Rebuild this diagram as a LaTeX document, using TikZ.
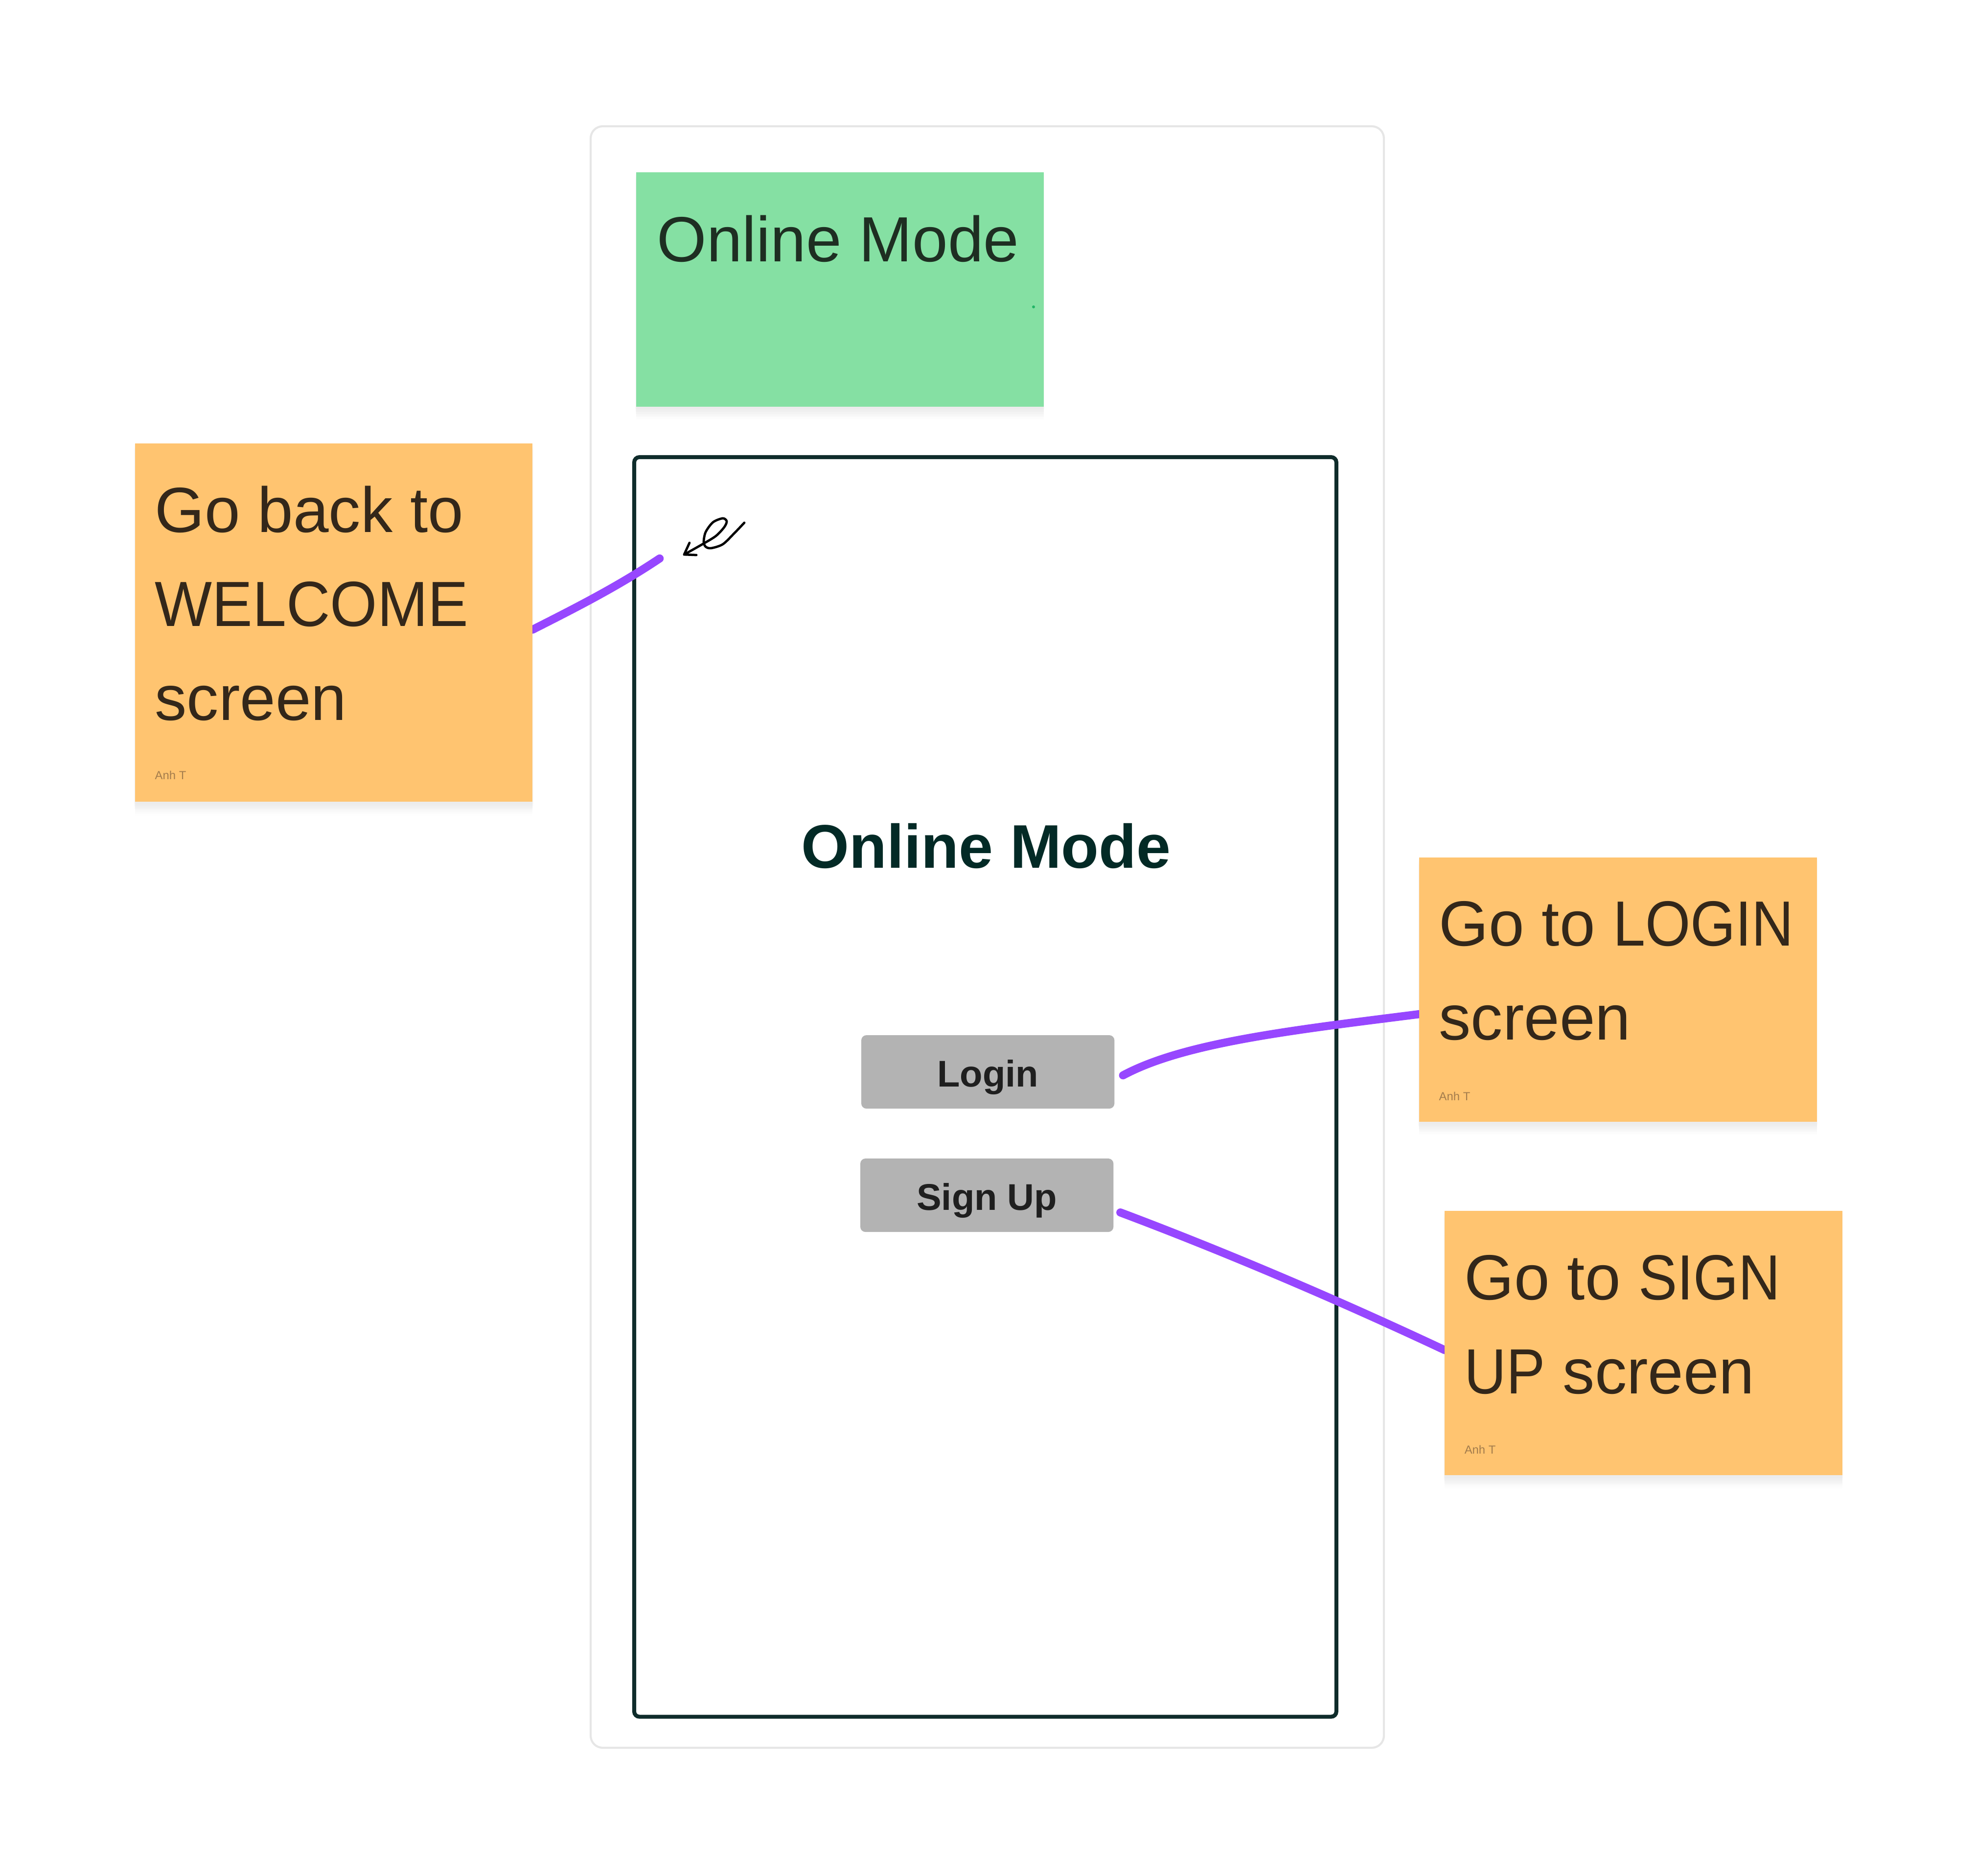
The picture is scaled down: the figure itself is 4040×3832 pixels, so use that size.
\documentclass[tikz,border=0pt]{standalone}
\usepackage{fontspec}
\setmainfont{Liberation Sans}
\newfontfamily\capsfont[FakeStretch=0.91]{Liberation Sans}
\newfontfamily\widecapsfont[FakeStretch=0.95]{Liberation Sans}
\usetikzlibrary{backgrounds}
\usetikzlibrary{shadows}
\definecolor{stickyorange}{HTML}{FFC470}
\definecolor{stickygreen}{HTML}{85E0A3}
\definecolor{linkpurple}{HTML}{9747FF}
\definecolor{framedark}{HTML}{0F2C2B}
\definecolor{titleink}{HTML}{032A26}
\definecolor{framelight}{HTML}{E6E6E6}
\definecolor{buttongray}{HTML}{B3B3B3}
\definecolor{orangeink}{HTML}{33271A}
\definecolor{greenink}{HTML}{1E2E22}
\definecolor{authorink}{HTML}{A37C4C}
\definecolor{dotgreen}{HTML}{21B566}
\tikzset{
  softshadow/.style={
    general shadow={fill=black,opacity=.008,shadow yshift=-1pt,shadow scale=1.006},
    general shadow={fill=black,opacity=.008,shadow yshift=-2pt,shadow scale=1.004},
    general shadow={fill=black,opacity=.010,shadow yshift=-3pt,shadow scale=1.002},
    general shadow={fill=black,opacity=.012,shadow yshift=-4pt,shadow scale=1.002},
    general shadow={fill=black,opacity=.012,shadow yshift=-5pt},
    general shadow={fill=black,opacity=.012,shadow yshift=-6pt},
    general shadow={fill=black,opacity=.008,shadow yshift=-7pt},
    general shadow={fill=black,opacity=.005,shadow yshift=-8pt}},
  sticky/.style={anchor=north west,inner sep=0pt,outer sep=0pt,softshadow},
  stickytext/.style={anchor=base west,inner sep=0pt,text width=8cm,align=flush left,text=orangeink,
    font=\fontsize{37.1}{54.6}\selectfont},
  authortext/.style={anchor=base west,inner sep=0pt,text=authorink,font=\fontsize{6.8}{8}\selectfont},
  button/.style={anchor=north west,fill=buttongray,rounded corners=3pt,inner sep=0pt,outer sep=0pt,
    minimum width=5.17cm,minimum height=1.5cm,text height=17.2pt,text depth=0pt,text=black!88,
    font=\fontsize{21.6}{25}\selectfont\bfseries},
  link/.style={draw=linkpurple,line width=4.7pt,line cap=round}
}
\begin{document}
\begin{tikzpicture}[x=0.01cm,y=-0.01cm]
      \useasboundingbox (0, 0) rectangle (4040, 3832);

      \begin{scope}[on background layer]
        \node (outerframe) [anchor=north west, draw=framelight, line width=1.2pt, rounded corners=7pt, inner sep=0pt, outer sep=0pt, minimum width=16.2cm, minimum height=33.11cm] at (1207, 258) {};
        \node (innerframe) [anchor=north west, draw=framedark, line width=2.3pt, rounded corners=3pt, inner sep=0pt, outer sep=0pt, minimum width=14.34cm, minimum height=25.72cm] at (1296, 934) {};
      \end{scope}

      \node (greensticky) [sticky, fill=stickygreen, minimum width=8.32cm, minimum height=4.79cm] at (1300, 352) {};
      \node (greentext) [stickytext, text=greenink] at (1342, 534) {Online Mode};
      \node (greendot) [circle, fill=dotgreen, inner sep=0pt, minimum size=1.7pt] at (2112, 627) {};

      \node (title) [anchor=base, text=titleink, font=\fontsize{35.8}{40}\selectfont\bfseries] at (2015, 1773) {Online Mode};

      \node (btnlogin) [button] at (1760, 2115) {Login};
      \node (btnsignup) [button] at (1758, 2367) {Sign Up};

      \node (backsticky) [sticky, fill=stickyorange, minimum width=8.12cm, minimum height=7.32cm] at (276, 906) {};
      \node (backtext) [stickytext] at (316, 1087) {Go back to\\{\widecapsfont WELCOME}\\screen};
      \node (backauthor) [authortext] at (316, 1592) {Anh T};

      \node (loginsticky) [sticky, fill=stickyorange, minimum width=8.12cm, minimum height=5.4cm] at (2900, 1752) {};
      \node (logintext) [stickytext] at (2940, 1932) {Go to {\capsfont LOGIN}\\screen};
      \node (loginauthor) [authortext] at (2940, 2248) {Anh T};

      \node (signupsticky) [sticky, fill=stickyorange, minimum width=8.12cm, minimum height=5.4cm] at (2952, 2474) {};
      \node (signuptext) [stickytext] at (2992, 2655) {Go to {\capsfont SIGN}\\{\capsfont UP} screen};
      \node (signupauthor) [authortext] at (2992, 2970) {Anh T};

      \coordinate (backend) at (1348, 1141);

      \begin{scope}[on background layer]
        \draw [link] (backend) .. controls (1260, 1200) and (1170, 1245) .. (backsticky.-2);
        \draw [link] ([xshift=5pt, yshift=-2pt]btnlogin.east) .. controls (2420, 2130) and (2640, 2105) .. (loginsticky.187);
        \draw [link] ([xshift=4pt, yshift=-10pt]btnsignup.east) .. controls (2470, 2545) and (2700, 2640) .. (signupsticky.182);
      \end{scope}

      \draw [line width=1.35pt, line cap=round, line join=round] plot [smooth] coordinates {(1398, 1133) (1437, 1111) (1463, 1095) (1480, 1077) (1485, 1065) (1477, 1059) (1457, 1067) (1442, 1087) (1438, 1107) (1442, 1117) (1453, 1120) (1477, 1112) (1500, 1090) (1521, 1068)};
      \draw [line width=1.35pt, line cap=round, line join=round] (1409, 1109) -- (1398, 1133) -- (1423, 1134);
    \end{tikzpicture}
\end{document}
